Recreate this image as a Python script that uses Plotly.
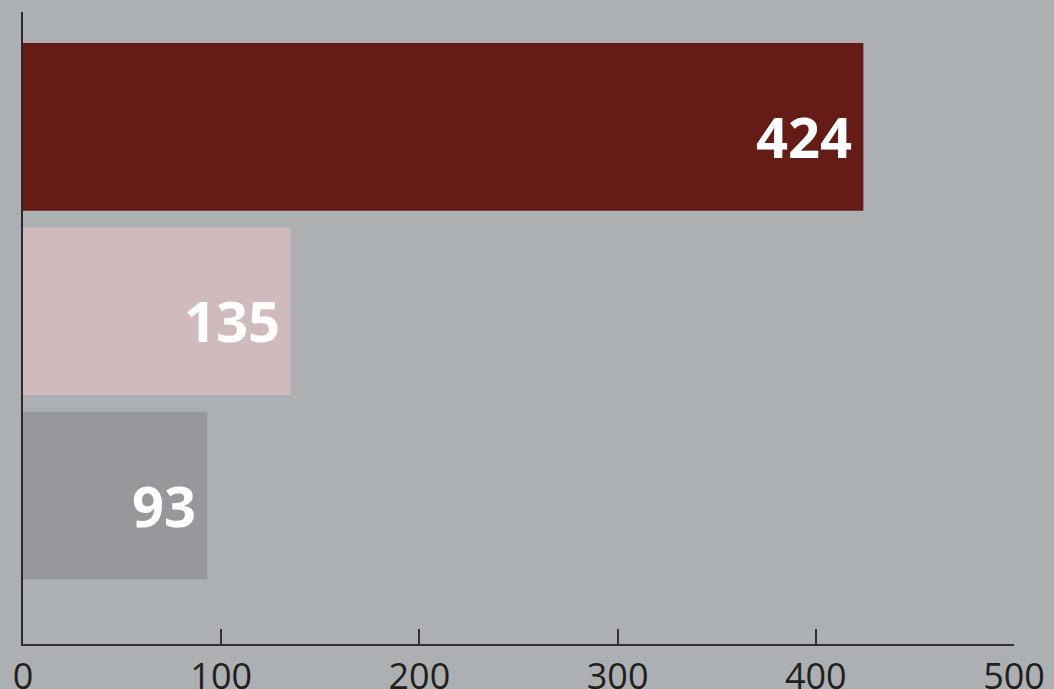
import plotly.graph_objects as go

categories = ["A", "B", "C"]
values = [424, 135, 93]
bar_colors = ["#651c16", "#cfbbbb", "#97989c"]
tick_vals = [0, 100, 200, 300, 400, 500]
tick_text = ["0", "100", "200", "300", "400", "500"]

BG = "#adb0b3"

fig = go.Figure()
fig.add_trace(go.Bar(
    x=values, y=categories, orientation="h",
    marker=dict(color=bar_colors, line=dict(width=0)),
    hoverinfo="skip",
))

for c, v in zip(categories, values):
    fig.add_annotation(
        x=v, y=c, xref="x", yref="y",
        text=str(v), showarrow=False,
        xanchor="right", yanchor="middle",
        xshift=-9, yshift=-9,
        font=dict(family="Open Sans", size=56, color="white", weight="bold"),
    )

fig.update_layout(
    width=1054, height=689,
    paper_bgcolor=BG, plot_bgcolor=BG,
    margin=dict(l=22.7, r=40, t=12, b=44.5, autoexpand=False),
    bargap=0.09,
    showlegend=False,
    font=dict(family="Open Sans", color="#231f20"),
    xaxis=dict(
        range=[0, 500], tickvals=tick_vals, ticktext=tick_text,
        ticks="inside", ticklen=15, tickwidth=1.5, tickcolor="#333333",
        showline=True, linecolor="#333333", linewidth=1.5,
        showgrid=False, zeroline=False, automargin=False,
        tickfont=dict(family="Open Sans", size=36, color="#231f20"),
        fixedrange=True,
    ),
    yaxis=dict(
        range=[2.805, -0.623],
        showticklabels=False, ticks="",
        showline=True, linecolor="#2a2a2a", linewidth=2,
        showgrid=False, zeroline=False, automargin=False,
        fixedrange=True,
    ),
)

fig.write_html(
    "out.html",
    config={"displayModeBar": False},
    post_script="document.body.style.margin='0';document.body.style.background='%s';" % BG,
)
